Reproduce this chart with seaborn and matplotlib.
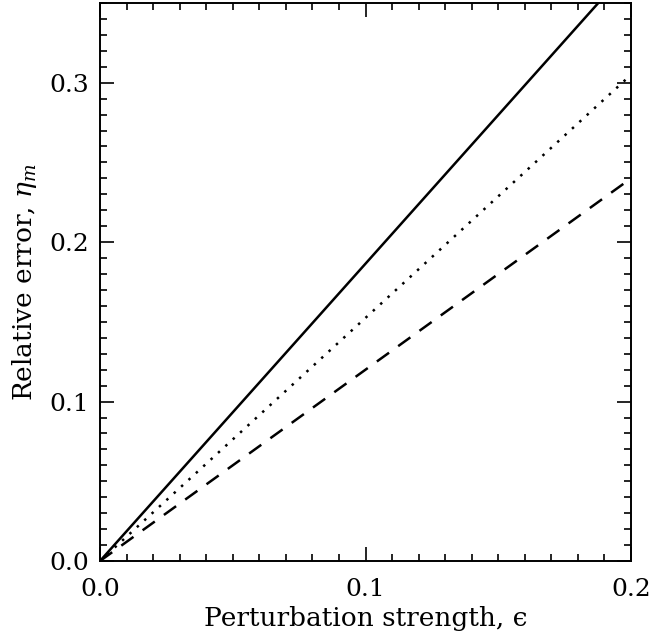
import numpy as np
import matplotlib
matplotlib.use("Agg")
import matplotlib.pyplot as plt
import seaborn as sns
from matplotlib.ticker import MultipleLocator

# values
eps = [0.0, 0.2]
eta_solid = [0.0, 0.373]
eta_dotted = [0.0, 0.305]
eta_dashed = [0.0, 0.240]
xticks = [0.0, 0.1, 0.2]
yticks = [0.0, 0.1, 0.2, 0.3]

sns.set_theme(style="ticks")
plt.rcParams["font.family"] = ["DejaVu Serif"]
plt.rcParams["mathtext.fontset"] = "dejavuserif"
plt.rcParams["text.color"] = "black"
plt.rcParams["axes.labelcolor"] = "black"

fig = plt.figure(figsize=(6.52, 6.42), dpi=100)
ax = fig.add_axes([0.1534, 0.1262, 0.8144, 0.8691])

sns.lineplot(x=eps, y=eta_solid, ax=ax, color="black", lw=1.8)
sns.lineplot(x=eps, y=eta_dotted, ax=ax, color="black", lw=1.8, linestyle=(0, (1, 3)))
sns.lineplot(x=eps, y=eta_dashed, ax=ax, color="black", lw=1.8, linestyle=(0, (6, 4.5)))

ax.set_xlim(0, 0.2)
ax.set_ylim(0, 0.35)
ax.set_xticks(xticks)
ax.set_xticklabels([f"{v:.1f}" for v in xticks])
ax.set_yticks(yticks)
ax.set_yticklabels([f"{v:.1f}" for v in yticks])
ax.xaxis.set_minor_locator(MultipleLocator(0.01))
ax.yaxis.set_minor_locator(MultipleLocator(0.01))
ax.tick_params(which="both", direction="in", top=True, right=True, color="black",
               labelcolor="black", width=1.2)
ax.tick_params(which="major", length=10, labelsize=18)
ax.tick_params(axis="x", which="major", pad=12)
ax.tick_params(axis="y", which="major", pad=8)
ax.tick_params(which="minor", length=5)
for s in ax.spines.values():
    s.set_linewidth(1.4)
    s.set_color("black")

ax.set_xlabel("Perturbation strength, \u03f5", fontsize=19, labelpad=4)
ax.set_ylabel(r"Relative error, $\eta_m$", fontsize=19, labelpad=7)

fig.savefig("out.png", dpi=100, facecolor="white")
